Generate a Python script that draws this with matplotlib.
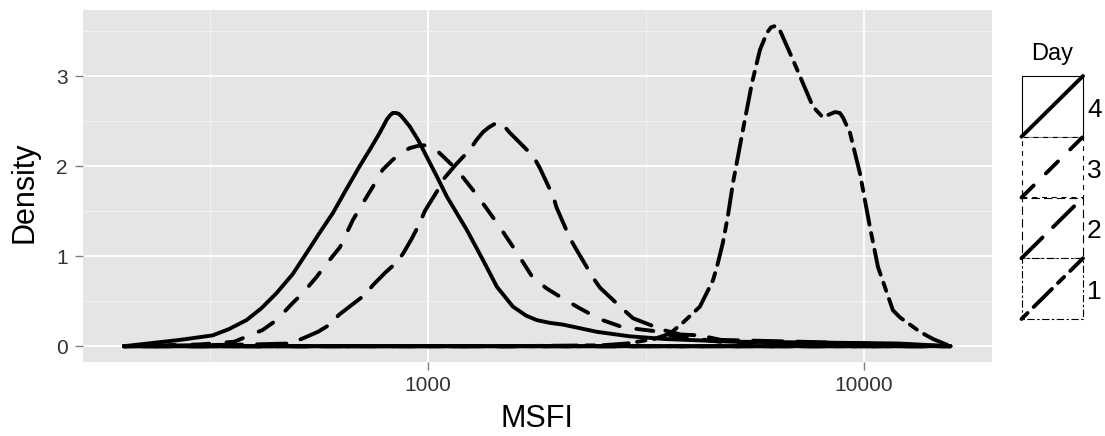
import matplotlib
matplotlib.use("Agg")
import matplotlib.pyplot as plt
from matplotlib.patches import Rectangle
from matplotlib.ticker import NullFormatter
import numpy as np

# density curves (MSFI on log10 axis)
day4_msfi = [201, 270, 321, 350, 384, 415, 450, 490, 528, 565, 606, 650, 698, 740,
             776, 806, 818, 831, 845, 858, 871, 909, 950, 995, 1050, 1106, 1229,
             1337, 1440, 1567, 1680, 1777, 1900, 2040, 2440, 2900, 3500, 5000,
             8000, 12000, 15790]
day4_density = [0.0, 0.07, 0.12, 0.19, 0.29, 0.42, 0.59, 0.80, 1.04, 1.26, 1.48,
                1.74, 2.00, 2.20, 2.37, 2.52, 2.56, 2.59, 2.59, 2.58, 2.55, 2.44,
                2.29, 2.10, 1.88, 1.66, 1.29, 0.96, 0.66, 0.44, 0.34, 0.29, 0.26,
                0.24, 0.16, 0.11, 0.08, 0.05, 0.04, 0.03, 0.0]

day3_msfi = [201, 300, 360, 418, 450, 490, 517, 556, 587, 629, 673, 710, 748, 788,
             831, 870, 909, 960, 1011, 1040, 1077, 1166, 1295, 1440, 1600, 1741,
             1875, 2040, 2232, 2481, 2801, 3281, 3590, 4650, 8000, 12000, 15790]
day3_density = [0.0, 0.02, 0.05, 0.18, 0.29, 0.48, 0.59, 0.77, 0.92, 1.10, 1.40,
                1.59, 1.77, 1.96, 2.07, 2.15, 2.20, 2.23, 2.23, 2.19, 2.12, 1.96,
                1.68, 1.37, 1.04, 0.76, 0.64, 0.53, 0.42, 0.30, 0.21, 0.17, 0.12,
                0.05, 0.03, 0.02, 0.0]

day2_msfi = [201, 400, 480, 513, 560, 596, 626, 670, 717, 749, 800, 848, 878, 920,
             959, 984, 1056, 1084, 1166, 1248, 1293, 1340, 1380, 1437, 1480, 1542,
             1640, 1744, 1806, 1940, 1973, 2117, 2193, 2393, 2481, 2803, 2956, 3463,
             3800, 4206, 4700, 5770, 7132, 10000, 15790]
day2_density = [0.0, 0.02, 0.03, 0.08, 0.16, 0.24, 0.35, 0.46, 0.57, 0.68, 0.82,
                0.93, 1.03, 1.20, 1.37, 1.50, 1.74, 1.85, 2.03, 2.18, 2.29, 2.38,
                2.43, 2.48, 2.47, 2.37, 2.24, 2.11, 1.98, 1.66, 1.54, 1.20, 1.07,
                0.76, 0.65, 0.41, 0.31, 0.18, 0.13, 0.12, 0.07, 0.06, 0.05, 0.03,
                0.0]

day1_msfi = [201, 1500, 2500, 2861, 3300, 3590, 3842, 4206, 4505, 4601, 4749, 4877,
             5007, 5278, 5535, 5774, 5992, 6120, 6251, 6400, 6522, 6874, 7246, 7638,
             8054, 8300, 8581, 8800, 8950, 9288, 9790, 10323, 10768, 11650, 12094,
             13440, 14400, 15790]
day1_density = [0.0, 0.0, 0.01, 0.03, 0.08, 0.14, 0.26, 0.44, 0.73, 0.88, 1.15,
                1.45, 1.81, 2.40, 2.92, 3.29, 3.48, 3.54, 3.555, 3.52, 3.43, 3.18,
                2.92, 2.66, 2.54, 2.57, 2.60, 2.59, 2.54, 2.37, 1.92, 1.32, 0.88,
                0.40, 0.32, 0.16, 0.08, 0.0]

day_labels = ["4", "3", "2", "1"]
x_ticks = [1000, 10000]
y_ticks = [0, 1, 2, 3]

# ggplot-like linetypes, dash lengths in units of line width
linetypes = {
    "4": "-",
    "3": (0, (4.4, 4.4)),
    "2": (0, (7.6, 3.8)),
    "1": (0, (2.2, 2.2, 6.6, 2.2)),
}
curves = {
    "4": (day4_msfi, day4_density),
    "3": (day3_msfi, day3_density),
    "2": (day2_msfi, day2_density),
    "1": (day1_msfi, day1_density),
}

plt.rcParams["font.family"] = ["Liberation Sans", "DejaVu Sans"]

W, H = 1105, 436
fig = plt.figure(figsize=(W / 100, H / 100), dpi=100)
fig.patch.set_facecolor("white")

# panel position in pixels
px_l, px_r, px_t, px_b = 82.7, 991.7, 10.0, 361.7
ax = fig.add_axes([px_l / W, 1 - px_b / H, (px_r - px_l) / W, (px_b - px_t) / H])
ax.set_facecolor("#E5E5E5")

lw = 2.8
for day in ["1", "2", "3", "4"]:
    x, y = curves[day]
    x = np.r_[x, x[0]]
    y = np.r_[y, y[0]]
    ax.plot(x, y, color="black", lw=lw, linestyle=linetypes[day],
            dash_capstyle="round", solid_capstyle="round", solid_joinstyle="round",
            dash_joinstyle="round", zorder=3)

ax.set_xscale("log")
ax.set_xlim(10 ** 2.2087, 10 ** 4.2929)
ax.set_ylim(-0.172, 3.733)

ax.set_xticks(x_ticks)
ax.set_xticklabels([str(v) for v in x_ticks])
ax.set_xticks([10 ** 2.5, 10 ** 3.5], minor=True)
ax.xaxis.set_minor_formatter(NullFormatter())
ax.set_yticks(y_ticks)
ax.set_yticklabels([str(v) for v in y_ticks])
ax.set_yticks([0.5, 1.5, 2.5, 3.5], minor=True)

ax.grid(which="major", color="white", lw=1.3, zorder=1)
ax.grid(which="minor", color="#F2F2F2", lw=0.7, zorder=1)
ax.set_axisbelow(True)
for s in ax.spines.values():
    s.set_visible(False)

ax.tick_params(which="major", length=5.8, width=1.0, color="#7F7F7F",
               labelsize=15, labelcolor="#333333")
ax.tick_params(axis="x", which="major", pad=4.5)
ax.tick_params(axis="y", which="major", pad=5)
ax.tick_params(which="minor", length=0)

# axis titles
fig.text(537.2 / W, 1 - 419 / H, "MSFI", fontsize=22, ha="center", va="center")
fig.text(25 / W, 1 - 192 / H, "Density", fontsize=22, rotation=90,
         ha="center", va="center")

# legend, drawn by hand like ggplot's polygon keys
leg = fig.add_axes([1021.5 / W, 1 - 319 / H, 61.5 / W, 243 / H])
leg.set_xlim(0, 1)
leg.set_ylim(0, 4)
leg.axis("off")
for i, day in enumerate(day_labels):
    b = 3 - i
    leg.add_patch(Rectangle((0, b), 1, 1, facecolor="white", edgecolor="black",
                            lw=0.8, linestyle=linetypes[day], clip_on=False,
                            zorder=2 + i))
    leg.plot([0, 1], [b, b + 1], color="black", lw=lw, linestyle=linetypes[day],
             dash_capstyle="round", solid_capstyle="round", clip_on=False,
             zorder=2.5 + i)
    fig.text(1087 / W, 1 - (106 + 60.75 * i + 4) / H, day, fontsize=19,
             ha="left", va="center")
fig.text(1052.5 / W, 1 - 60 / H, "Day", fontsize=17, ha="center", va="baseline")

fig.savefig("out.png", dpi=100)
